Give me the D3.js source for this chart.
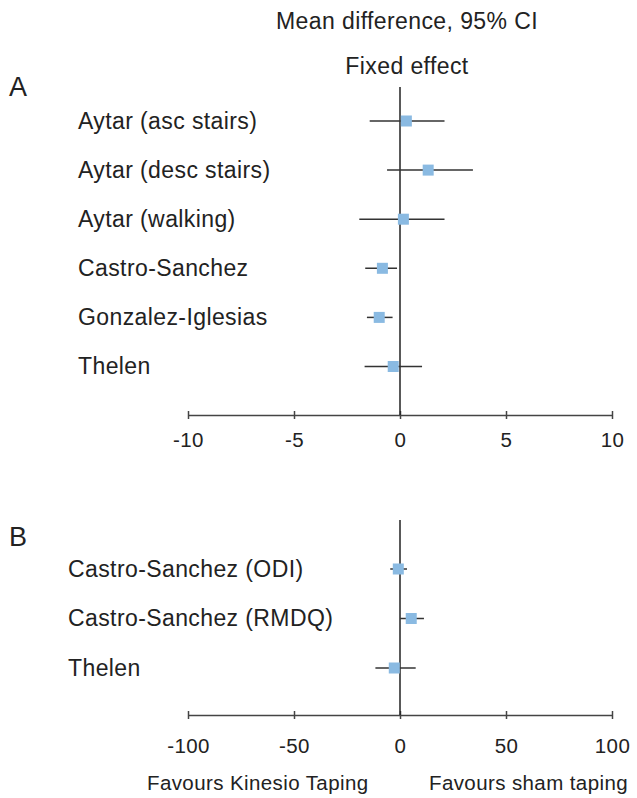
<!DOCTYPE html>
<html>
<head>
<meta charset="utf-8">
<script src="https://cdn.jsdelivr.net/npm/d3@7"></script>
<style>
  body { margin: 0; background: #fff; }
  text { font-family: "Liberation Sans", Arial, sans-serif; fill: #222; letter-spacing: 0.4px; }
</style>
</head>
<body>
<svg width="637" height="798"></svg>
<script>
// panel A: physical function outcomes
const studiesA = ["Aytar (asc stairs)", "Aytar (desc stairs)", "Aytar (walking)", "Castro-Sanchez", "Gonzalez-Iglesias", "Thelen"]
const meanA = [0.30, 1.33, 0.16, -0.83, -0.98, -0.32]
const lowA = [-1.43, -0.61, -1.92, -1.64, -1.56, -1.67]
const highA = [2.10, 3.44, 2.10, -0.14, -0.35, 1.04]
const ticksA = [-10, -5, 0, 5, 10]

// panel B: disability outcomes
const studiesB = ["Castro-Sanchez (ODI)", "Castro-Sanchez (RMDQ)", "Thelen"]
const meanB = [-0.8, 5.3, -2.7]
const lowB = [-4.6, 0.1, -11.6]
const highB = [3.3, 11.3, 7.4]
const ticksB = [-100, -50, 0, 50, 100]

const svg = d3.select("svg")
const boxColor = "#8abae2"

svg.append("text").attr("x", 407).attr("y", 29).attr("text-anchor", "middle")
  .style("font-size", "23px").text("Mean difference, 95% CI")
svg.append("text").attr("x", 407).attr("y", 74).attr("text-anchor", "middle")
  .style("font-size", "23px").text("Fixed effect")

const drawPanel = (opts) => {
  const { letter, letterY, studies, mean, low, high, ticks, top, rowGap, axisY, labelX, lineTop, pad } = opts
  const x = d3.scaleLinear().domain([ticks[0], ticks[ticks.length - 1]]).range([188, 612])
  const y = d3.scaleBand().domain(studies).range([top - rowGap / 2, top - rowGap / 2 + rowGap * studies.length])

  svg.append("text").attr("x", 9).attr("y", letterY).style("font-size", "27px").text(letter)

  const g = svg.append("g")

  // axis
  const axis = g.append("g").attr("transform", `translate(0,${axisY})`)
    .call(d3.axisBottom(x).tickValues(ticks).tickFormat(d => String(d))
      .tickSizeInner(0).tickSizeOuter(0).tickPadding(pad))
  axis.select(".domain").attr("stroke", "#444").attr("stroke-width", 1.5)
  axis.selectAll(".tick line").attr("y1", -4).attr("y2", 4).attr("stroke", "#444").attr("stroke-width", 1.5)
  axis.selectAll(".tick text").style("font-size", "20.5px").attr("fill", "#222")
  axis.attr("font-family", null).attr("font-size", null)

  // line of no effect
  g.append("line").attr("x1", x(0)).attr("x2", x(0)).attr("y1", lineTop).attr("y2", axisY)
    .attr("stroke", "#222").attr("stroke-width", 1.5)

  const rows = g.selectAll(".row").data(studies).enter().append("g").attr("class", "row")
    .attr("transform", d => `translate(0,${y(d) + y.bandwidth() / 2})`)

  rows.append("text").attr("x", labelX).attr("y", 7.5).style("font-size", "23px").text(d => d)
  rows.append("line").attr("x1", (d, i) => x(low[i])).attr("x2", (d, i) => x(high[i]))
    .attr("stroke", "#333").attr("stroke-width", 1.5)
  rows.append("rect").attr("x", (d, i) => x(mean[i]) - 5.5).attr("y", -5.5)
    .attr("width", 11).attr("height", 11).attr("fill", boxColor)
}

drawPanel({
  letter: "A", letterY: 96, studies: studiesA, mean: meanA, low: lowA, high: highA, ticks: ticksA,
  top: 121, rowGap: 49.1, axisY: 415, labelX: 78, lineTop: 87, pad: 17
})

drawPanel({
  letter: "B", letterY: 546, studies: studiesB, mean: meanB, low: lowB, high: highB, ticks: ticksB,
  top: 569, rowGap: 49.5, axisY: 715, labelX: 68, lineTop: 520, pad: 23
})

svg.append("text").attr("x", 147).attr("y", 790).style("font-size", "20.5px").text("Favours Kinesio Taping")
svg.append("text").attr("x", 628).attr("y", 790).attr("text-anchor", "end").style("font-size", "20.5px").text("Favours sham taping")
</script>
</body>
</html>
